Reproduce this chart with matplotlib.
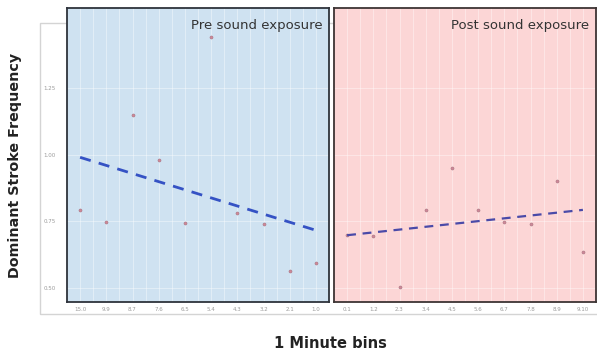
import matplotlib

matplotlib.use("Agg")
import matplotlib.pyplot as plt
import numpy as np
from matplotlib.patches import Rectangle

# data
pre_labels = ["15.0", "9.9", "8.7", "7.6", "6.5", "5.4", "4.3", "3.2", "2.1", "1.0"]
pre_freq = [0.793, 0.748, 1.148, 0.982, 0.745, 1.44, 0.78, 0.74, 0.565, 0.595]
post_labels = ["0.1", "1.2", "2.3", "3.4", "4.5", "5.6", "6.7", "7.8", "8.9", "9.10"]
post_freq = [0.70, 0.695, 0.505, 0.792, 0.951, 0.792, 0.747, 0.742, 0.90, 0.635]
y_ticks = [0.50, 0.75, 1.00, 1.25]

W, H = 597, 355
fig = plt.figure(figsize=(W / 100, H / 100), dpi=100)

# light grey outer frame behind the panels
fig.patches.append(Rectangle((40 / W, 1 - 314 / H), 560 / W, (314 - 23) / H,
                             transform=fig.transFigure, fill=False,
                             edgecolor="#d4d4d4", lw=1, zorder=-5))

panels = [
    (67, pre_labels, pre_freq, "#cfe2f1", "#2e333b", "Pre sound exposure", "#3552c4", 2.0),
    (334, post_labels, post_freq, "#fcd6d6", "#3d3434", "Post sound exposure", "#4a4aa8", 1.6),
]
axes = []
for x0, labs, vals, bg, edge, title, lc, lw in panels:
    ax = fig.add_axes([x0 / W, 1 - 301.5 / H, 262 / W, (301.5 - 8) / H])
    ax.set_facecolor(bg)
    x = np.arange(len(vals))
    ax.set_xticks(x + 0.5, minor=True)
    ax.grid(True, which="both", color="white", alpha=0.45, lw=0.6)
    ax.set_axisbelow(True)
    ax.scatter(x, vals, s=5, color="#cf8a98", edgecolor="#9a6a7a", lw=0.3, zorder=3)
    k, b = np.polyfit(x, vals, 1)
    ax.plot(x, k * x + b, "--", color=lc, lw=lw, dashes=(4, 3), zorder=4)
    ax.set_xlim(-0.5, len(vals) - 0.5)
    ax.set_ylim(0.45, 1.55)
    ax.set_xticks(x)
    ax.set_xticklabels(labs)
    ax.set_yticks(y_ticks)
    ax.tick_params(which="both", length=0, labelsize=4, labelcolor="#9a9a9a", pad=4)
    for s in ax.spines.values():
        s.set_color(edge)
        s.set_linewidth(1.3)
    ax.text(0.975, 0.94, title, transform=ax.transAxes, ha="right", va="center",
            fontsize=9.5, color="#333333")
    axes.append(ax)

axes[0].set_yticklabels([f"{v:.2f}" for v in y_ticks])
axes[0].tick_params(axis="y", pad=8)
axes[1].set_yticklabels([])

fig.text(15 / W, 1 - 165 / H, "Dominant Stroke Frequency", rotation=90,
         ha="center", va="center", fontsize=10.3, fontweight="bold", color="#222222")
fig.text(330 / W, 1 - 343 / H, "1 Minute bins", ha="center", va="center",
         fontsize=10.5, fontweight="bold", color="#222222")

fig.savefig("out.png", dpi=100)
plt.close(fig)
